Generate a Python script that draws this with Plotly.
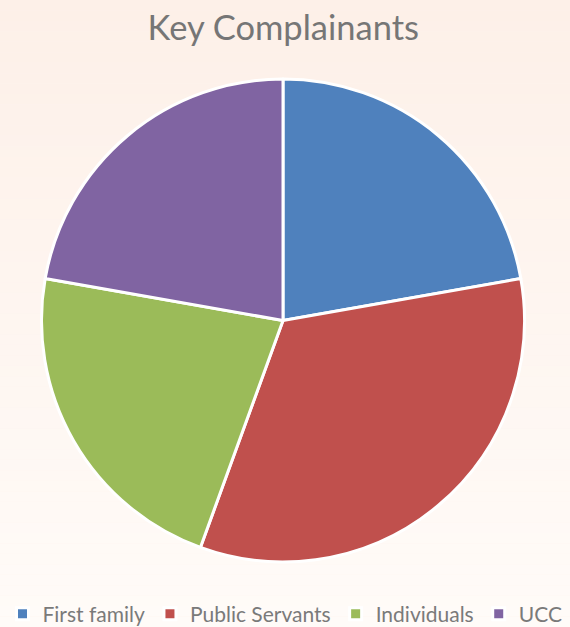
import plotly.graph_objects as go

labels = ["First family", "Public Servants", "Individuals", "UCC"]
values = [2, 3, 2, 2]
colors = ["#4f81bd", "#c0504d", "#9bbb59", "#8064a2"]

W, H = 570, 627
fig = go.Figure()
fig.add_trace(go.Pie(
    labels=labels, values=values, sort=False, direction="clockwise", rotation=0,
    marker=dict(colors=colors, line=dict(color="white", width=3)),
    textinfo="none", hoverinfo="label+value+percent",
    domain=dict(x=[41.5/W, 524.5/W], y=[(H-562)/H, (H-79)/H]),
))

# vertical gradient background
shapes = []
n = 60
top = (253, 240, 232)
bot = (255, 251, 248)
for i in range(n):
    t = i / (n - 1)
    c = tuple(round(top[k] + (bot[k] - top[k]) * t) for k in range(3))
    shapes.append(dict(type="rect", xref="paper", yref="paper", x0=0, x1=1,
                       y0=1 - (i + 1) / n, y1=1 - i / n, line=dict(width=0),
                       fillcolor="rgb(%d,%d,%d)" % c, layer="below"))

fig.update_layout(
    width=W, height=H, margin=dict(l=0, r=0, t=0, b=0, autoexpand=False),
    paper_bgcolor="#fdf3ee", plot_bgcolor="rgba(0,0,0,0)",
    shapes=shapes,
    font=dict(family="Lato, Open Sans, sans-serif", color="#767676"),
    title=dict(text="Key Complainants", x=0.497, xanchor="center", y=1 - 28/H, yanchor="middle",
               font=dict(size=34.5, color="#767676")),
    legend=dict(orientation="h", x=0.5, xanchor="center", y=1 - 614/H, yanchor="middle",
                font=dict(size=21, color="#7a7a7a"), bgcolor="rgba(0,0,0,0)",
                itemclick=False),
)
fig.write_html("out.html")
